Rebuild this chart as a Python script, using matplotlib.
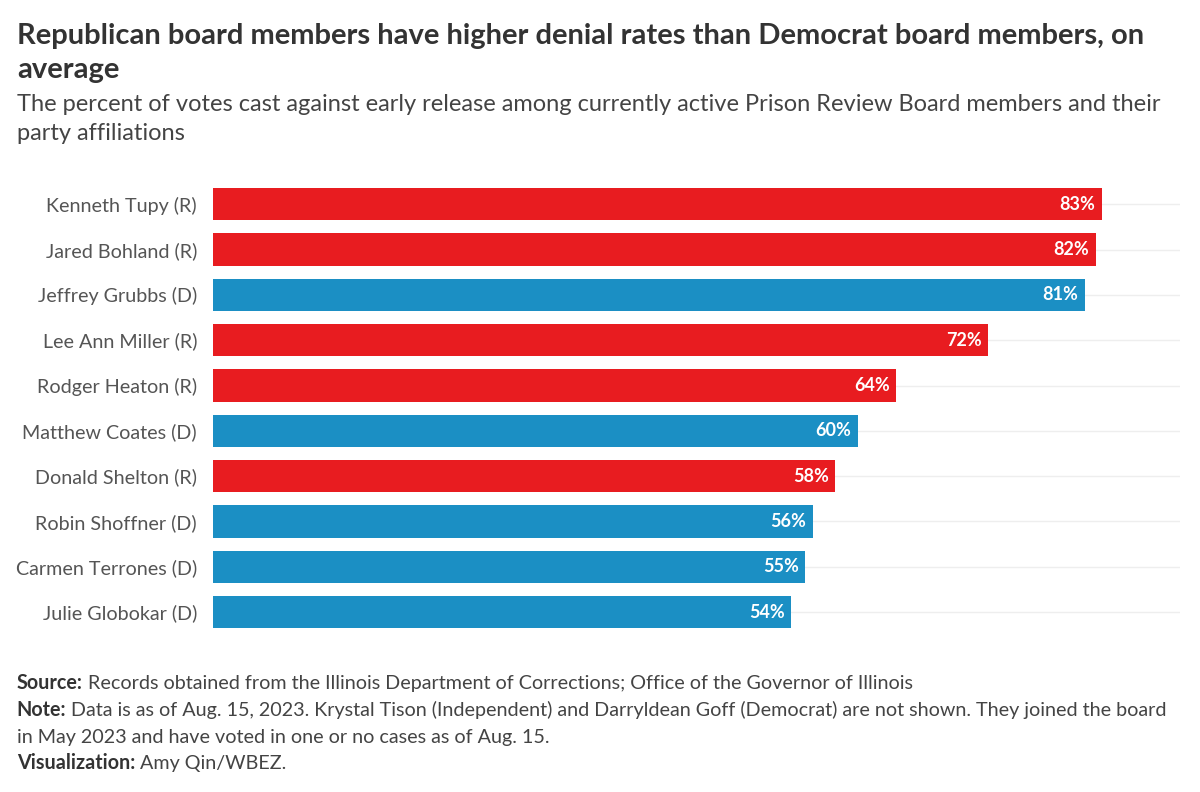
import matplotlib.pyplot as plt

# data (bar lengths estimated, labels are rounded)
members = ["Kenneth Tupy (R)", "Jared Bohland (R)", "Jeffrey Grubbs (D)", "Lee Ann Miller (R)",
           "Rodger Heaton (R)", "Matthew Coates (D)", "Donald Shelton (R)", "Robin Shoffner (D)",
           "Carmen Terrones (D)", "Julie Globokar (D)"]
party = ["R", "R", "D", "R", "R", "D", "R", "D", "D", "D"]
denial_pct = [83.0, 82.4, 81.4, 72.4, 63.8, 60.2, 58.1, 56.0, 55.3, 54.0]

party_colors = {"R": "#e81c20", "D": "#1b8fc4"}
font = ["Lato", "DejaVu Sans"]
plt.rcParams['font.family'] = font

fig = plt.figure(figsize=(12, 7.92), dpi=100)
ax = fig.add_axes([0.1775, 0.1986, 0.806, 0.5721])

ypos = list(range(len(members)))
colors = [party_colors[p] for p in party]

# faint lines behind each bar
for y in ypos:
    ax.axhline(y, color="#eeeeee", lw=1, zorder=0)

ax.barh(ypos, denial_pct, height=0.71, color=colors, zorder=2)
for y, v in zip(ypos, denial_pct):
    ax.text(v - 0.6, y, f"{v:.0f}%", ha="right", va="center", color="white",
            fontsize=13, fontweight="bold", zorder=3)

ax.set_xlim(0, 90.3)
ax.set_ylim(len(members) - 0.5, -0.5)
ax.set_yticks(ypos)
ax.set_yticklabels(members, fontsize=14.2, color="#555555")
ax.tick_params(axis="y", length=0, pad=11.5)
ax.set_xticks([])
for s in ax.spines.values():
    s.set_visible(False)

fig.text(0.014, 0.955, "Republican board members have higher denial rates than Democrat board members, on",
         fontsize=21, fontweight="bold", color="#333333", va="center")
fig.text(0.014, 0.911, "average", fontsize=21, fontweight="bold", color="#333333", va="center")
fig.text(0.014, 0.868, "The percent of votes cast against early release among currently active Prison Review Board members and their",
         fontsize=17, color="#444444", va="center")
fig.text(0.014, 0.831, "party affiliations", fontsize=17, color="#444444", va="center")

foot = [
    ("Source:", " Records obtained from the Illinois Department of Corrections; Office of the Governor of Illinois", 0.137),
    ("Note:", " Data is as of Aug. 15, 2023. Krystal Tison (Independent) and Darryldean Goff (Democrat) are not shown. They joined the board", 0.103),
    ("", "in May 2023 and have voted in one or no cases as of Aug. 15.", 0.069),
    ("Visualization:", " Amy Qin/WBEZ.", 0.036),
]
for bold, rest, y in foot:
    t = fig.text(0.014, y, bold, fontsize=14.2, fontweight="bold", color="#333333", va="center")
    if bold:
        fig.canvas.draw()
        bb = t.get_window_extent()
        x2 = bb.x1 / fig.bbox.width
    else:
        x2 = 0.014
    fig.text(x2, y, rest, fontsize=14.2, color="#444444", va="center")

fig.savefig("out.png", dpi=100)
